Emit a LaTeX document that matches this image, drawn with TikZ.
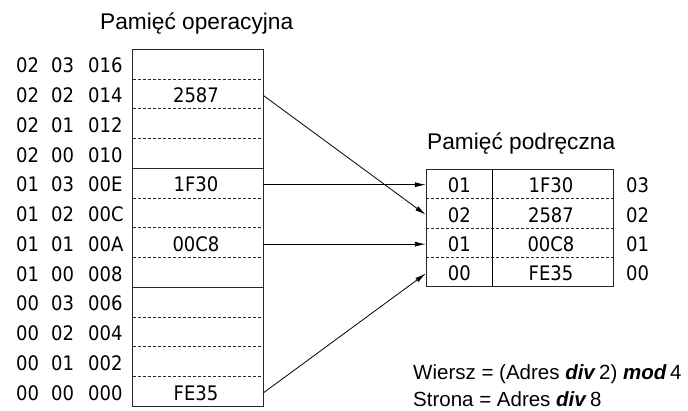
\documentclass[tikz,border=0pt]{standalone}
\usepackage{fontspec}
\setmainfont{Liberation Sans}
\newfontfamily\numfont{DejaVu Sans Condensed}
\usetikzlibrary{arrows.meta}
\begin{document}
\begin{tikzpicture}[x=1pt,y=-1pt,
  numtxt/.style={font=\numfont\fontsize{20}{22}\selectfont, inner sep=0pt, yshift=-1.5pt},
  cell/.style={numtxt, minimum width=130.6pt, minimum height=29.75pt},
  tagcell/.style={numtxt, minimum width=66.7pt, minimum height=29.35pt},
  datacell/.style={numtxt, minimum width=120.6pt, minimum height=29.35pt},
  lab/.style={numtxt, anchor=west},
  boxline/.style={draw=black!85, line width=0.9pt},
  sepline/.style={draw=black!85, line width=0.7pt, dash pattern=on 3pt off 2pt},
  arr/.style={draw=black, line width=0.8pt, -{Latex[length=11pt,width=5pt]}},
  title/.style={font=\fontsize{22.7}{26}\selectfont, inner sep=0pt, anchor=base west},
  formula/.style={font=\fontsize{20.5}{24}\selectfont, inner sep=0pt, anchor=base west}
]
\useasboundingbox (0,0) rectangle (688,411);

% titles
\node[title] (t1) at (100,30) {Pamięć operacyjna};
\node[title] (t2) at (427,150) {Pamięć podręczna};

% main memory
\foreach \i/\a/\b/\c/\d in {0/02/03/016/{},1/02/02/014/2587,2/02/01/012/{},3/02/00/010/{},
  4/01/03/00E/1F30,5/01/02/00C/{},6/01/01/00A/00C8,7/01/00/008/{},
  8/00/03/006/{},9/00/02/004/{},10/00/01/002/{},11/00/00/000/FE35}{
  \pgfmathsetmacro\yc{64.175+\i*29.75}
  \node[cell] (m\i) at (196,\yc) {\d};
  \node[lab] (la\i) at (16,\yc) {\a};
  \node[lab] (lb\i) at (51,\yc) {\b};
  \node[lab] (lc\i) at (88,\yc) {\c};
}
\foreach \k in {1,2,3,5,6,7,9,10,11}{
  \pgfmathsetmacro\yy{49.3+\k*29.75}
  \draw[sepline] (132.7,\yy) -- (263.3,\yy);
}
\foreach \k in {4,8}{
  \pgfmathsetmacro\yy{49.3+\k*29.75}
  \draw[boxline] (132.7,\yy) -- (263.3,\yy);
}
\draw[boxline] (132.7,49.3) rectangle (263.3,406.3);

% cache
\foreach \j/\t/\d/\r in {0/01/1F30/03,1/02/2587/02,2/01/00C8/01,3/00/FE35/00}{
  \pgfmathsetmacro\yc{183.975+\j*29.35}
  \node[tagcell] (c\j) at (459.35,\yc) {\t};
  \node[datacell] (d\j) at (551,\yc) {\d};
  \node[numtxt] (r\j) at (637.5,\yc) {\r};
}
\foreach \k in {1,2,3}{
  \pgfmathsetmacro\yy{169.3+\k*29.35}
  \draw[sepline] (426,\yy) -- (613.3,\yy);
}
\draw[boxline] (426,169.3) rectangle (613.3,286.7);
\draw[draw=black, line width=1.3pt] (492.7,169.3) -- (492.7,286.7);

% arrows
\draw[arr] (m4.east -| 263.3,0) -- (m4.east -| c0.west);
\draw[arr] (m1.east -| 263.3,0) -- (c1.west);
\draw[arr] (m6.east -| 263.3,0) -- (m6.east -| c2.west);
\draw[arr] (m11.east -| 263.3,0) -- (c3.west);

% formulas
\node[formula] (f1) at (413,380) {Wiersz = (Adres \textbf{\textit{div}}\,2) \textbf{\textit{mod}}\,4};
\node[formula] (f2) at (413,406.5) {Strona = Adres \textbf{\textit{div}}\,8};
\end{tikzpicture}
\end{document}
